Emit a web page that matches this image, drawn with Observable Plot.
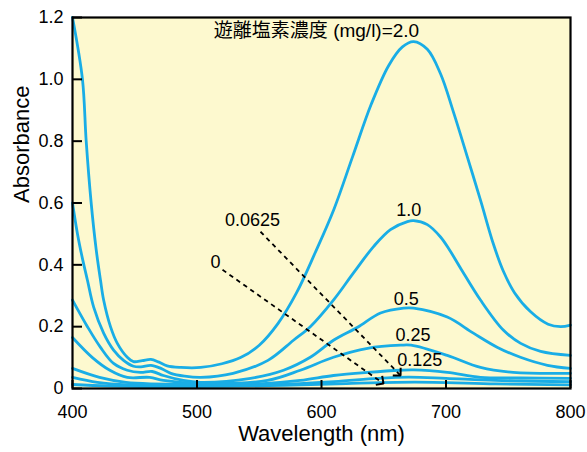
<!DOCTYPE html>
<html><head><meta charset="utf-8">
<script src="https://cdn.jsdelivr.net/npm/d3@7"></script>
<script src="https://cdn.jsdelivr.net/npm/@observablehq/plot@0.6"></script>
<style>body{margin:0;background:#fff}</style>
</head><body><div id="chart"></div>
<script>
// ---- data (wavelength nm, absorbance) ----
const xTicks = [400, 500, 600, 700, 800];
const yTicks = [0, 0.2, 0.4, 0.6, 0.8, 1.0, 1.2];
const seriesNames = ["2.0", "1.0", "0.5", "0.25", "0.125", "0.0625", "0"];

const s2_0 = [[400,1.2],[408,1.0],[411,0.8],[415,0.6],[419,0.45],[422.5,0.35],[425,0.286],[430.5,0.2],[436,0.146],[444,0.101],[449,0.087],[456,0.09],[463,0.094],[469,0.086],[476,0.073],[487,0.068],[503,0.068],[520,0.08],[535,0.1],[550,0.14],[565,0.21],[580,0.31],[595,0.44],[610,0.58],[625,0.75],[640,0.92],[654,1.045],[665,1.105],[674,1.122],[685,1.097],[695.6,1.018],[706,0.894],[717,0.751],[728,0.605],[738,0.468],[746,0.38],[755,0.31],[768,0.248],[782,0.208],[792,0.2],[800,0.205]];
const s1_0 = [[400,0.6],[404,0.5],[408,0.42],[412,0.35],[417,0.263],[425,0.179],[433,0.124],[441,0.091],[449,0.072],[455,0.07],[463,0.075],[471,0.065],[479,0.049],[490,0.04],[503,0.036],[529,0.049],[557,0.091],[577.5,0.156],[591,0.2],[609.6,0.286],[625.7,0.374],[641.8,0.459],[655.4,0.514],[669,0.54],[674,0.543],[685,0.53],[695.6,0.49],[703,0.447],[711.6,0.39],[727.7,0.286],[746,0.189],[760,0.146],[776,0.12],[800,0.107]];
const s0_5 = [[400,0.286],[412,0.2],[422.5,0.133],[433,0.081],[444,0.059],[454.6,0.052],[464,0.055],[473,0.042],[489,0.026],[503,0.02],[543,0.033],[569.5,0.059],[591,0.101],[609.6,0.156],[629,0.198],[647.4,0.244],[666,0.26],[674,0.26],[701,0.231],[722,0.179],[741.4,0.133],[759.8,0.101],[781.5,0.075],[800,0.065]];
const s0_25 = [[400,0.165],[416,0.1],[430,0.059],[444,0.036],[462,0.036],[473,0.026],[503,0.016],[556.6,0.026],[583,0.059],[609.6,0.101],[637,0.13],[663.5,0.14],[672,0.14],[701,0.107],[727.7,0.068],[754,0.052],[800,0.049]];
const s0_125 = [[400,0.065],[421.7,0.036],[443,0.02],[503,0.013],[550,0.015],[583,0.026],[609.6,0.042],[637,0.052],[663.5,0.059],[674,0.06],[701,0.052],[727.7,0.036],[760,0.034],[800,0.033]];
const s0_0625 = [[400,0.036],[420,0.02],[445,0.012],[500,0.01],[560,0.012],[610,0.022],[645,0.033],[670,0.037],[700,0.033],[740,0.026],[800,0.022]];
const s0 = [[400,0.013],[430,0.008],[500,0.006],[570,0.01],[620,0.016],[660,0.02],[690,0.02],[740,0.015],[800,0.012]];
const seriesData = [s2_0, s1_0, s0_5, s0_25, s0_125, s0_0625, s0];

const titleText = ["遊離塩素濃度 (mg/l)=2.0"];
const titleWl = [596];
const titleAbs = [1.156];

const curveLabels = ["1.0", "0.5", "0.25", "0.125"];
const curveLabelWl = [670, 668, 673.5, 679];
const curveLabelAbs = [0.577, 0.289, 0.171, 0.091];

const arrowLabels = ["0.0625", "0"];
const arrowLabelWl = [544.6, 514.9];
const arrowLabelAbs = [0.543, 0.407];
const arrowStartWl = [551, 520.5];
const arrowStartAbs = [0.507, 0.384];
const arrowEndWl = [663.5, 649.8];
const arrowEndAbs = [0.042, 0.016];

// ---- tables ----
const lineRows = seriesData.flatMap((s, i) => s.map(([w, a]) => ({conc: seriesNames[i], w, a})));
const titleRows = titleText.map((t, i) => ({t, w: titleWl[i], a: titleAbs[i]}));
const labelRows = curveLabels.map((t, i) => ({t, w: curveLabelWl[i], a: curveLabelAbs[i]}));
const arrowLabelRows = arrowLabels.map((t, i) => ({t, w: arrowLabelWl[i], a: arrowLabelAbs[i]}));
const arrowRows = arrowLabels.map((t, i) => ({x1: arrowStartWl[i], y1: arrowStartAbs[i], x2: arrowEndWl[i], y2: arrowEndAbs[i]}));

const BLUE = "#19ade6";
const BG = "#fdf9cf";
const FONT = "'Liberation Sans', Arial, Helvetica, 'Noto Sans CJK JP', sans-serif";

function solidArrowHead(color) {
  const ns = "http://www.w3.org/2000/svg";
  const m = document.createElementNS(ns, "marker");
  m.setAttribute("viewBox", "-8 -8 16 16");
  m.setAttribute("markerUnits", "userSpaceOnUse");
  m.setAttribute("markerWidth", 16);
  m.setAttribute("markerHeight", 16);
  m.setAttribute("orient", "auto");
  m.setAttribute("fill", "none");
  m.setAttribute("stroke", color);
  m.setAttribute("stroke-width", 2);
  m.setAttribute("stroke-dasharray", "none");
  const p = document.createElementNS(ns, "path");
  p.setAttribute("d", "M-5.5,-5.5L0,0L-5.5,5.5");
  p.setAttribute("stroke-dasharray", "none");
  m.appendChild(p);
  return m;
}

const chart = Plot.plot({
  width: 587,
  height: 452,
  marginLeft: 72,
  marginRight: 17,
  marginTop: 17,
  marginBottom: 64,
  style: {fontFamily: FONT, fontSize: "18px", background: "white", color: "black"},
  x: {domain: [400, 800]},
  y: {domain: [0, 1.2]},
  marks: [
    Plot.frame({fill: BG}),
    Plot.line(lineRows, {x: "w", y: "a", z: "conc", stroke: BLUE, strokeWidth: 2.8, curve: "catmull-rom"}),
    Plot.link(arrowRows, {x1: "x1", y1: "y1", x2: "x2", y2: "y2", stroke: "black", strokeWidth: 1.8, strokeDasharray: "4.5,4", markerEnd: solidArrowHead}),
    Plot.text(titleRows, {x: "w", y: "a", text: "t", fontSize: 19, fill: "black"}),
    Plot.text(labelRows, {x: "w", y: "a", text: "t", fontSize: 18, fill: "black"}),
    Plot.text(arrowLabelRows, {x: "w", y: "a", text: "t", fontSize: 18, fill: "black"}),
    Plot.axisX({ticks: xTicks, tickSize: -8, tickFormat: () => "", label: null, strokeWidth: 2}),
    Plot.axisX({ticks: xTicks, tickSize: 0, tickPadding: 17, tickFormat: d => String(d), label: null, fontSize: 18}),
    Plot.axisY({ticks: yTicks, tickSize: -10, tickFormat: () => "", label: null, strokeWidth: 2}),
    Plot.axisY({ticks: yTicks, tickSize: 0, tickPadding: 9, tickFormat: d => d === 0 ? "0" : d.toFixed(1), label: null, fontSize: 18}),
    Plot.text(["Wavelength (nm)"], {frameAnchor: "bottom", dy: 52, text: d => d, fontSize: 22, fill: "black"}),
    Plot.text(["Absorbance"], {frameAnchor: "left", dx: -51, rotate: -90, text: d => d, fontSize: 22, fill: "black"}),
    Plot.frame({stroke: "black", strokeWidth: 2.2})
  ]
});
document.getElementById("chart").appendChild(chart);
</script>
</body></html>
